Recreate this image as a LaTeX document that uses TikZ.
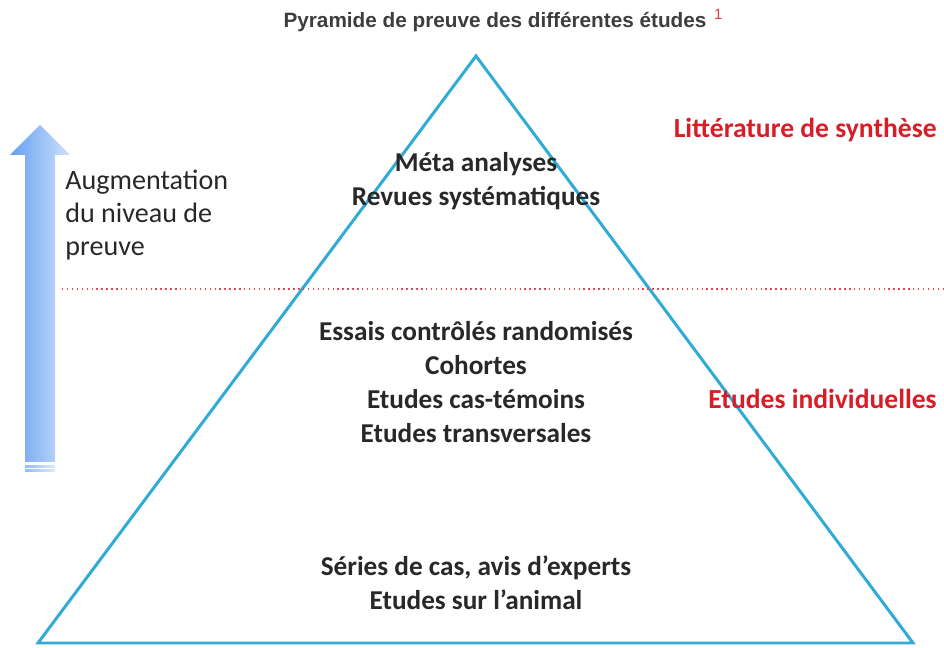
\documentclass[tikz,border=0pt]{standalone}
\usepackage{fontspec}
\setmainfont{Carlito}
\newfontfamily\titlefont{Liberation Sans}
\usetikzlibrary{positioning}

\definecolor{pyrblue}{RGB}{48,170,215}
\definecolor{levelred}{RGB}{215,30,40}
\definecolor{textgray}{RGB}{40,40,40}
\definecolor{arrowdark}{RGB}{100,160,242}
\definecolor{arrowlight}{RGB}{205,225,248}

\tikzset{
  level/.style={align=center, font=\bfseries\fontsize{15.5}{19.2}\selectfont, text=textgray, inner sep=0pt},
  side/.style={font=\bfseries\fontsize{15.7}{19}\selectfont, text=levelred, inner sep=0pt},
}

\begin{document}
\begin{tikzpicture}[x=0.02cm, y=-0.02cm]

    % Picture size in pixels (one unit == one pixel of the reference)
    \pgfmathsetmacro{\picw}{944}
    \pgfmathsetmacro{\pich}{648}
    \useasboundingbox (0,0) rectangle (\picw,\pich);

    % Corners of the pyramid
    \coordinate (apex) at (476,56);
    \coordinate (bl) at (38,643);
    \coordinate (br) at (913,643);

    % Draw the pyramid
    \draw[pyrblue, line width=1.7pt, line join=miter] (apex) -- (br) -- (bl) -- cycle;

    % Dotted border between the two kinds of studies
    \coordinate (sepl) at (62,289);
    \coordinate (sepr) at (\picw,289);
    \draw[levelred!80, line width=0.8pt, dotted] (sepl) -- (sepr);

    % Arrow on the left (shaft from x=25 to x=55)
    \shade[left color=arrowdark, right color=arrowlight]
      (25,462) -- (25,155) -- (10,155) -- (40,125) -- (70,155) -- (55,155) -- (55,462) -- cycle;

    % Thin stripes at the foot of the arrow
    \foreach \y in {466, 470}{
      \shade[left color=arrowdark!70, right color=arrowlight!70] (25,\y) rectangle (55,\y+1.5);
    }

    % Text beside the arrow
    \node[anchor=north west, align=left, inner sep=0pt, text=textgray,
          font=\fontsize{16}{18.8}\selectfont] (gain) at (65,170)
      {Augmentation\\du niveau de\\preuve};

    % Title
    \node[inner sep=0pt, text=textgray!90, font=\titlefont\bfseries\fontsize{11.8}{14}\selectfont] (title) at (495,22)
      {Pyramide de preuve des différentes études};
    \node[inner sep=0pt, text=levelred!85, font=\titlefont\fontsize{8.5}{10}\selectfont, anchor=south west] (ref) at ([xshift=4pt, yshift=1pt]title.east)
      {1};

    % Levels of the pyramid
    \node[level] (top) at (476,181) {Méta analyses\\Revues systématiques};
    \node[level] (mid) at (476,382) {Essais contrôlés randomisés\\Cohortes\\Etudes cas-témoins\\Etudes transversales};
    \node[level] (low) at (476,583) {Séries de cas, avis d’experts\\Etudes sur l’animal};

    % Labels on the right
    \node[side, anchor=east] (synth) at (937,130) {Littérature de synthèse};
    \node[side, anchor=east] (indiv) at (937,399) {Etudes individuelles};

\end{tikzpicture}
\end{document}
